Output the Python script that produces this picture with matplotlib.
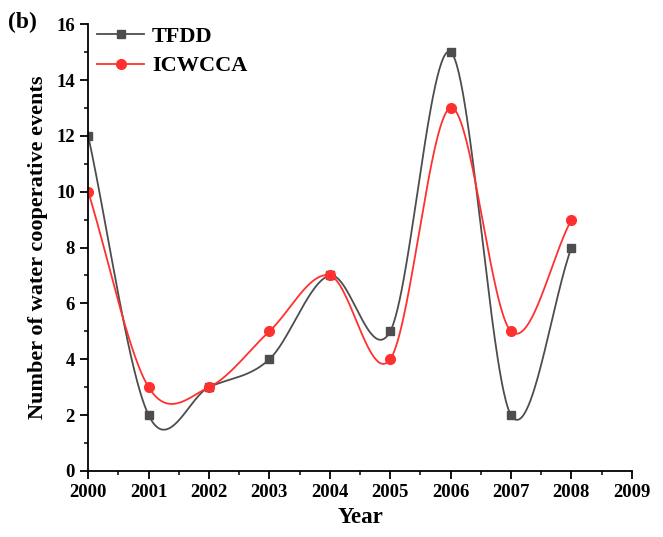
import numpy as np
import matplotlib.pyplot as plt

years = [2000, 2001, 2002, 2003, 2004, 2005, 2006, 2007, 2008]
tfdd = [12, 2, 3, 4, 7, 5, 15, 2, 8]
icwcca = [10, 3, 3, 5, 7, 4, 13, 5, 9]


def smooth_line(x, y, n=60):
    # Catmull-Rom style spline through the points (Origin "Spline" look)
    x = np.asarray(x, float)
    y = np.asarray(y, float)
    m = len(x)
    d = np.zeros(m)
    d[1:-1] = (y[2:] - y[:-2]) / (x[2:] - x[:-2])
    d[0] = (y[1] - y[0]) / (x[1] - x[0])
    d[-1] = (y[-1] - y[-2]) / (x[-1] - x[-2])
    xs_all, ys_all = [], []
    for i in range(m - 1):
        h = x[i + 1] - x[i]
        t = np.linspace(0, 1, n)
        h00 = 2 * t ** 3 - 3 * t ** 2 + 1
        h10 = t ** 3 - 2 * t ** 2 + t
        h01 = -2 * t ** 3 + 3 * t ** 2
        h11 = t ** 3 - t ** 2
        xs_all.append(x[i] + t * h)
        ys_all.append(h00 * y[i] + h10 * h * d[i] + h01 * y[i + 1] + h11 * h * d[i + 1])
    return np.concatenate(xs_all), np.concatenate(ys_all)


plt.rcParams['font.family'] = ['Liberation Serif', 'DejaVu Serif']
plt.rcParams['font.weight'] = 'bold'

fig = plt.figure(figsize=(6.63, 5.37), dpi=100)
ax = fig.add_axes([0.133, 0.123, 0.82, 0.832])

grey = '#4d4d4d'
red = '#ff3030'

xs, ys = smooth_line(years, tfdd)
ax.plot(xs, ys, color=grey, lw=1.3)
ax.plot(years, tfdd, 's', color=grey, ms=6)
xs, ys = smooth_line(years, icwcca)
ax.plot(xs, ys, color=red, lw=1.3)
ax.plot(years, icwcca, 'o', color=red, ms=7)

# legend proxies with line + marker
ax.plot([], [], '-s', color=grey, lw=1.3, ms=6, label='TFDD')
ax.plot([], [], '-o', color=red, lw=1.3, ms=7, label='ICWCCA')
ax.legend(loc='upper left', bbox_to_anchor=(-0.02, 1.04), frameon=False,
          prop={'weight': 'bold', 'size': 16}, handlelength=2.1,
          handletextpad=0.35, labelspacing=0.4)

ax.set_xlim(2000, 2009)
ax.set_ylim(0, 16)
ax.set_xticks(range(2000, 2010))
ax.set_xticks(np.arange(2000.5, 2009, 1), minor=True)
ax.set_yticks(range(0, 17, 2))
ax.set_yticks(range(1, 16, 2), minor=True)
for s in ['top', 'right']:
    ax.spines[s].set_visible(False)
for s in ['left', 'bottom']:
    ax.spines[s].set_linewidth(1.3)
ax.tick_params(which='major', direction='out', length=6, width=1.3, labelsize=13.5)
ax.tick_params(which='minor', direction='out', length=3, width=1.1)
for lab in ax.get_xticklabels() + ax.get_yticklabels():
    lab.set_fontweight('bold')

ax.set_xlabel('Year', fontsize=16.5, fontweight='bold', labelpad=4)
ax.set_ylabel('Number of water cooperative events', fontsize=16, fontweight='bold', labelpad=6)
fig.text(0.012, 0.958, '(b)', fontsize=17, fontweight='bold', va='center')

fig.savefig('out.png', dpi=100)
